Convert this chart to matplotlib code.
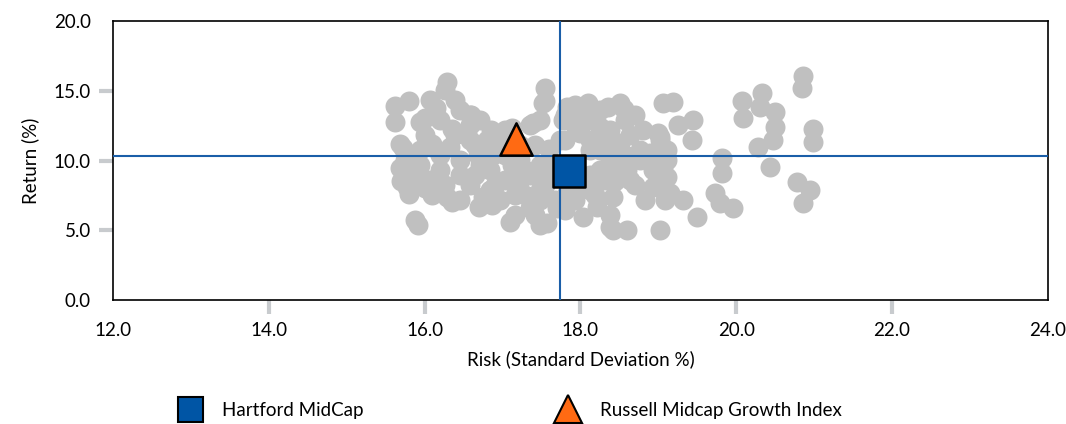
import matplotlib.pyplot as plt
from matplotlib.lines import Line2D

# peer universe (risk %, return %)
peer_risk = [
    15.62, 15.62, 15.80, 16.07, 16.15, 16.29, 16.26, 16.45, 15.94, 16.20,
    16.58, 16.71, 16.39, 16.00, 15.72, 15.75, 15.75, 15.77, 15.94, 16.07,
    16.26, 16.29, 16.45, 16.58, 16.84, 16.75, 16.87, 17.10, 17.16, 15.88,
    15.92, 16.97, 17.03, 16.90, 17.22, 17.35, 17.29, 17.48, 17.42, 17.48,
    17.35, 17.55, 17.55, 17.48, 17.35, 17.42, 16.65, 16.45, 16.20, 16.71,
    16.45, 16.20, 15.94, 17.12, 16.85, 16.10, 16.35, 16.60, 15.85, 16.00,
    16.70, 16.35,
    16.00, 16.58, 16.80, 16.88, 16.69, 16.33, 16.10, 15.92, 16.10, 16.65,
    16.84, 17.03, 17.12, 16.97, 17.16, 17.22, 17.29, 17.48, 17.58, 17.48,
    16.58, 16.39, 17.03, 15.80, 15.68, 15.68, 15.70,
    17.39, 17.52, 17.83, 18.10, 18.35, 18.51, 18.56, 18.25, 18.80, 19.02,
    18.51, 18.25, 18.60, 18.93, 19.02, 18.42, 18.21, 17.39, 17.57, 18.42,
    18.60, 17.83, 17.99, 17.78, 18.12, 18.38, 18.12, 17.93, 18.77, 18.70,
    18.83, 17.61, 17.55, 17.22, 17.74, 18.00, 18.30, 18.60, 18.90, 18.45,
    17.20, 17.60, 17.95, 17.70, 18.70, 18.15,
    17.67, 17.80, 18.03, 17.93, 18.12, 18.32, 18.19, 18.38, 17.80, 17.93,
    17.93, 18.12, 18.25, 18.38, 18.57, 18.64, 18.57, 18.44, 18.64, 18.77,
    17.80, 18.12, 18.25, 18.44, 19.00, 19.11, 18.89, 19.06, 19.02, 18.93,
    19.15, 18.38,
    19.06, 19.19, 19.25, 19.45, 19.43, 19.02, 19.11, 19.11, 19.09, 19.32,
    19.50, 19.02, 19.82, 19.82, 19.73, 19.79, 19.96, 20.07, 20.09, 20.33,
    20.31, 20.50, 20.50, 20.47, 20.28, 20.43, 20.86, 20.85, 20.99, 20.99,
    20.78, 20.95, 20.86,
]
peer_return = [
    13.90, 12.76, 14.27, 14.34, 13.76, 15.63, 15.05, 13.62, 12.76, 12.90,
    12.54, 12.90, 11.83, 11.83, 10.90, 10.04, 8.96, 8.10, 9.68, 8.60,
    8.24, 7.38, 7.17, 8.24, 9.32, 7.38, 6.81, 5.59, 6.10, 5.73,
    5.35, 11.47, 10.40, 8.24, 8.60, 8.96, 7.53, 7.17, 6.10, 5.38,
    6.60, 15.20, 14.30, 12.90, 12.54, 11.10, 11.10, 10.04, 10.40, 9.68,
    8.96, 9.32, 10.75, 12.33, 12.20, 11.20, 12.30, 13.30, 9.20, 8.00,
    6.70, 7.00,
    13.05, 11.47, 11.47, 10.40, 10.40, 10.97, 10.97, 8.96, 7.53, 8.96,
    7.90, 8.60, 9.68, 7.17, 7.53, 11.10, 9.32, 9.68, 8.60, 7.90,
    13.26, 14.34, 12.19, 7.60, 11.20, 9.50, 8.50,
    12.69, 14.12, 13.84, 14.12, 13.84, 14.12, 13.70, 12.40, 12.19, 11.68,
    11.25, 9.32, 9.32, 9.32, 8.10, 7.38, 6.67, 7.17, 5.52, 5.02,
    5.02, 7.67, 11.97, 12.90, 10.75, 10.04, 7.90, 7.17, 10.75, 8.24,
    7.17, 9.68, 8.24, 10.04, 11.47, 12.90, 11.50, 10.30, 10.30, 8.50,
    11.20, 10.80, 9.00, 6.60, 13.30, 13.30,
    7.17, 6.45, 5.95, 8.24, 8.96, 8.60, 7.53, 6.10, 13.26, 13.98,
    12.54, 12.90, 13.62, 12.19, 12.90, 11.83, 10.40, 9.32, 8.60, 10.04,
    11.47, 11.47, 10.75, 11.10, 11.97, 10.75, 10.54, 9.53, 8.60, 8.10,
    7.67, 5.23,
    14.12, 14.19, 12.54, 12.90, 11.47, 11.47, 10.04, 8.82, 7.17, 7.17,
    5.95, 5.02, 10.18, 9.10, 7.67, 6.95, 6.60, 14.30, 13.05, 14.84,
    13.84, 13.50, 12.40, 11.47, 10.97, 9.53, 16.10, 15.20, 12.30, 11.30,
    8.46, 7.90, 6.95,
]

fund_name = "Hartford MidCap"
fund_risk = [17.85]
fund_return = [9.25]
index_name = "Russell Midcap Growth Index"
index_risk = [17.17]
index_return = [11.54]

# crosshair lines
risk_line = 17.74
return_line = 10.34

x_ticks = [12.0, 14.0, 16.0, 18.0, 20.0, 22.0, 24.0]
y_ticks = [0.0, 5.0, 10.0, 15.0, 20.0]

plt.rcParams['font.family'] = ['Lato', 'DejaVu Sans']

fig = plt.figure(figsize=(10.66, 4.24), dpi=100)
ax = fig.add_axes([0.106, 0.2925, 0.877, 0.6575])

ax.scatter(peer_risk, peer_return, s=207, color="#c0c0c0", linewidths=0, zorder=2)
ax.axvline(risk_line, color="#1a5ea8", lw=1.5, zorder=3)
ax.axhline(return_line, color="#1a5ea8", lw=1.5, zorder=3)
ax.scatter(fund_risk, fund_return, marker="s", s=500, color="#0055a5",
           edgecolors="black", linewidths=1.8, zorder=4)
ax.scatter(index_risk, index_return, marker="^", s=540, color="#ff6a13",
           edgecolors="black", linewidths=1.8, zorder=4)

ax.set_xlim(12, 24)
ax.set_ylim(0, 20)
ax.set_xticks(x_ticks)
ax.set_yticks(y_ticks)
ax.set_xticklabels([f"{v:.1f}" for v in x_ticks])
ax.set_yticklabels([f"{v:.1f}" for v in y_ticks])
ax.tick_params(axis="both", length=10, width=3, color="#c8cbce", labelsize=13.5, pad=6)
for tl in [ax.xaxis.get_ticklines()[0], ax.xaxis.get_ticklines()[-2],
           ax.yaxis.get_ticklines()[0], ax.yaxis.get_ticklines()[-2]]:
    tl.set_visible(False)
for sp in ax.spines.values():
    sp.set_linewidth(1.2)

ax.set_xlabel("Risk (Standard Deviation %)", fontsize=13.5, labelpad=8)
ax.set_ylabel("Return (%)", fontsize=13.5, labelpad=10)

handles = [
    Line2D([], [], marker="s", linestyle="none", markersize=18, markerfacecolor="#0055a5",
           markeredgecolor="black", markeredgewidth=1.5, label=fund_name),
    Line2D([], [], marker="^", linestyle="none", markersize=20, markerfacecolor="#ff6a13",
           markeredgecolor="black", markeredgewidth=1.5, label=index_name),
]
fig.legend(handles=handles, loc="center", bbox_to_anchor=(0.475, 0.033), ncol=2,
           frameon=False, fontsize=13.5, columnspacing=9.9, handletextpad=0.7)

fig.savefig("out.png", dpi=100)
